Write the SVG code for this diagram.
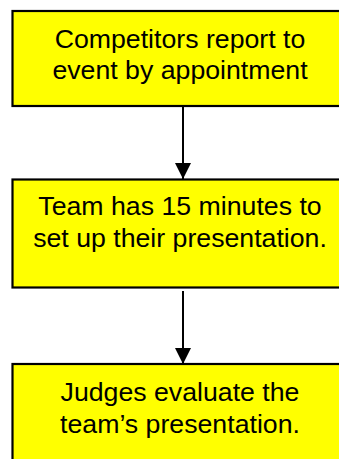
<svg xmlns="http://www.w3.org/2000/svg" width="339" height="459" viewBox="0 0 339 459">
<style>
.box{fill:#ffff00;stroke:#000;stroke-width:2.2}
.t{font-family:"Liberation Sans",Arial,sans-serif;font-size:26.7px;fill:#000;text-anchor:middle}
.c{stroke:#000;stroke-width:2;fill:none}
</style>
<defs>
<marker id="ah" markerUnits="userSpaceOnUse" markerWidth="16" markerHeight="16" viewBox="0 0 16 16" refX="16" refY="8" orient="auto">
<path d="M0,0 L16,8 L0,16 Z" fill="#000"/>
</marker>
</defs>
<g id="connectors">
<line class="c" x1="183" y1="107" x2="183" y2="179" marker-end="url(#ah)"/>
<line class="c" x1="183" y1="291" x2="183" y2="364" marker-end="url(#ah)"/>
</g>
<g id="node1">
<rect class="box" x="12.5" y="11" width="340" height="95"/>
<text class="t" x="180" y="47.5">Competitors report to</text>
<text class="t" x="180" y="78.5">event by appointment</text>
</g>
<g id="node2">
<rect class="box" x="12.5" y="179.5" width="340" height="108"/>
<text class="t" x="180" y="215">Team has 15 minutes to</text>
<text class="t" x="180" y="247">set up their presentation.</text>
</g>
<g id="node3">
<rect class="box" x="12.5" y="364" width="340" height="110"/>
<text class="t" x="180" y="401">Judges evaluate the</text>
<text class="t" x="180" y="433">team’s presentation.</text>
</g>
</svg>
